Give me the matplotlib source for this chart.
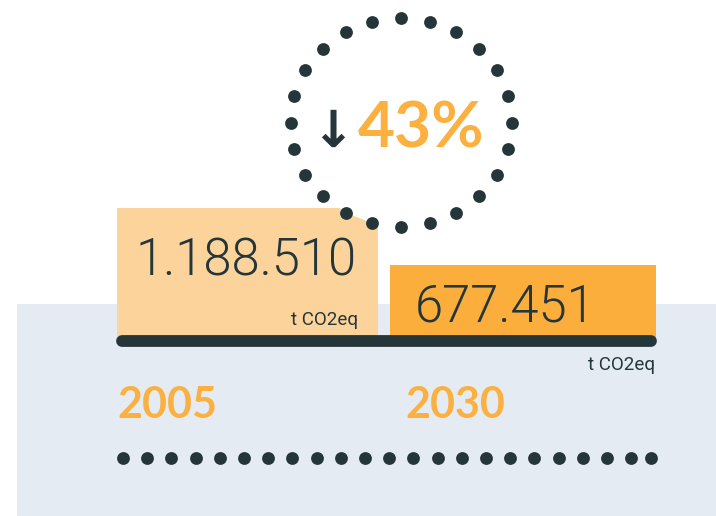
import numpy as np
import matplotlib
matplotlib.use("Agg")
import matplotlib.pyplot as plt
from matplotlib.patches import Rectangle, Polygon

# data
years = ["2005", "2030"]
emissions = [1188510, 677451]
value_labels = ["1.188.510", "677.451"]
unit = "t CO2eq"
reduction = "43%"

dark = "#25363b"
orange = "#fbae3c"
light_orange = "#fcd49b"
text_orange = "#fbb040"
panel = "#e4ebf2"

W, H = 716, 516
fig = plt.figure(figsize=(W / 100, H / 100), dpi=100)

def canvas(z):
    a = fig.add_axes([0, 0, 1, 1], zorder=z)
    a.set_xlim(0, W)
    a.set_ylim(H, 0)
    a.axis("off")
    a.patch.set_alpha(0)
    return a

# background panel
bg = canvas(0)
bg.add_patch(Rectangle((17, 304), W - 17, H - 304, color=panel, lw=0))

# bars: axes between baseline y=340 and top y=208 (pixel rows)
base_px, top_px = 340, 208
bx = fig.add_axes([0, (H - base_px) / H, 1, (base_px - top_px) / H], zorder=1)
bx.set_xlim(0, W)
bx.set_ylim(0, max(emissions))
bx.axis("off")
bx.patch.set_alpha(0)
bx.bar([117, 390], emissions, width=[261, 266], align="edge",
       color=[light_orange, orange], lw=0)

ox = canvas(2)

# white disk + dotted ring
cx, cy, rx, ry = 401, 122.5, 110.5, 104.2
ang = np.pi / 2 - np.arange(24) * 2 * np.pi / 24
px = cx + rx * np.cos(ang)
py = cy - ry * np.sin(ang)
ox.add_patch(Polygon(np.c_[px, py], closed=True, color="white", lw=0))
ox.scatter(px, py, s=85, color=dark, lw=0)

ox.text(333, 147, "↓", color=dark, fontsize=37, fontweight="bold",
        family=["DejaVu Sans"], ha="center", va="baseline")
ox.text(358, 147, reduction, color=text_orange, fontsize=46, fontweight="bold",
        family=["Lato", "DejaVu Sans"], ha="left", va="baseline")

# baseline
ox.plot([122, 651], [341, 341], color=dark, lw=8.5, solid_capstyle="round")

# value labels
num_font = ["Roboto", "DejaVu Sans"]
ox.text(136, 276, value_labels[0], color=dark, fontsize=36.5, fontweight=300,
        family=num_font, ha="left", va="baseline")
ox.text(358, 325, unit, color=dark, fontsize=13.5,
        family=num_font, ha="right", va="baseline")
ox.text(415, 322, value_labels[1], color=dark, fontsize=36.5, fontweight=300,
        family=num_font, ha="left", va="baseline")
ox.text(655, 370, unit, color=dark, fontsize=13.5,
        family=num_font, ha="right", va="baseline")

# years
for x, yr in zip([117, 405], years):
    ox.text(x, 418, yr, color=text_orange, fontsize=31, fontweight="bold",
            family=["Lato", "DejaVu Sans"], ha="left", va="baseline")

# dotted row
row_x = list(123 + 24.2 * np.arange(22)) + [651]
ox.scatter(row_x, [458] * len(row_x), s=85, color=dark, lw=0)

fig.savefig("out.png", dpi=100)
